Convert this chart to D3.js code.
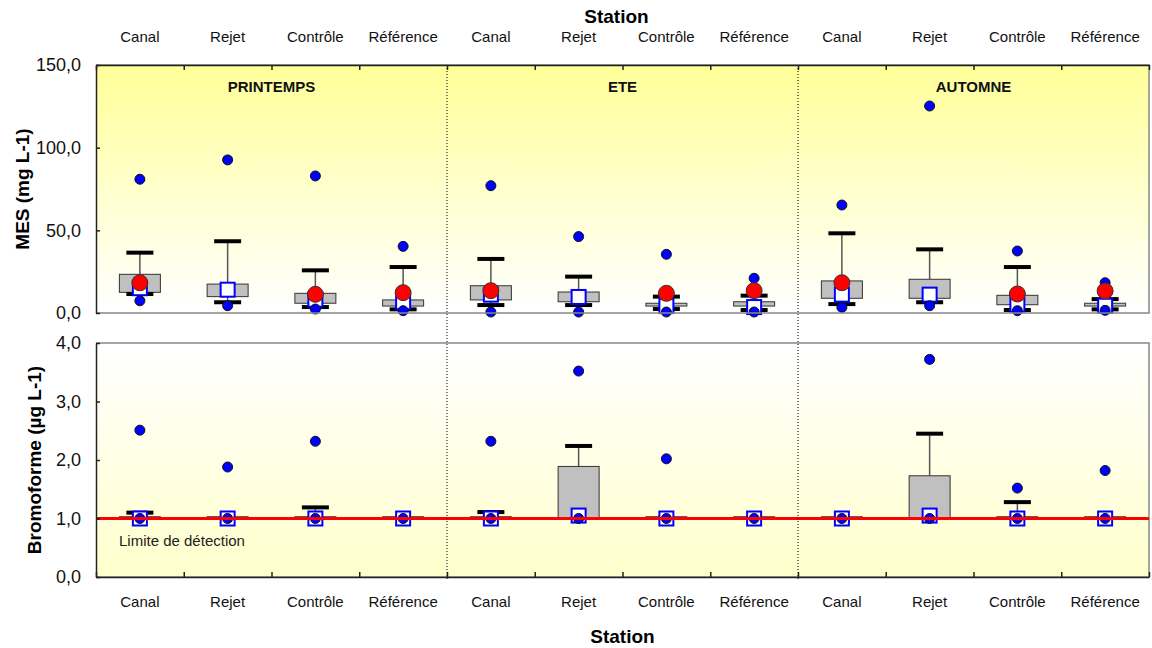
<!DOCTYPE html>
<html>
<head>
<meta charset="utf-8">
<script src="https://cdn.jsdelivr.net/npm/d3@7"></script>
<style>
  body { margin: 0; background: #fff; }
  text { font-family: Arial, "Liberation Sans", sans-serif; }
</style>
</head>
<body>
<div id="chart"></div>
<script>
// stations repeated in each season
const stations = ["Canal", "Rejet", "Contrôle", "Référence"];
const seasons = ["PRINTEMPS", "ETE", "AUTOMNE"];

// MES (mg L-1), 12 boxes: 3 seasons x 4 stations
const mesOutHigh = [80.9, 92.6, 82.9, 40.3, 77.0, 46.2, 35.5, 21.0, 65.3, 125.2, 37.5, 18.3];
const mesCapHigh = [36.5, 43.4, 25.8, 27.8, 32.7, 22.0, 9.9, 10.5, 48.2, 38.5, 27.8, 8.4];
const mesQ3      = [23.4, 17.5, 11.9, 7.9, 16.5, 12.7, 5.9, 6.8, 19.4, 20.4, 10.7, 5.9];
const mesMedian  = [15.0, 14.1, 8.0, 6.5, 11.1, 9.7, 4.2, 3.6, 11.1, 11.1, 5.0, 4.4];
const mesQ1      = [12.5, 9.9, 5.9, 4.2, 7.9, 6.8, 4.2, 4.2, 8.9, 8.9, 5.0, 4.2];
const mesCapLow  = [11.5, 6.5, 3.6, 2.2, 4.8, 4.8, 2.4, 1.8, 5.4, 6.5, 1.8, 2.2];
const mesOutLow  = [7.4, 4.4, 2.4, 1.4, 0.6, 0.6, 0.6, 0.6, 3.4, 4.4, 1.4, 1.6];
const mesMean    = [18.3, null, 11.3, 12.3, 13.5, null, 11.9, 13.5, 18.3, null, 11.5, 13.3];
const mesTicks   = [0, 50, 100, 150];

// Bromoforme (µg L-1)
const bromoOutHigh = [2.51, 1.88, 2.32, null, 2.32, 3.52, 2.02, null, null, 3.72, 1.52, 1.82];
const bromoCapHigh = [1.10, null, 1.19, null, 1.11, 2.24, null, null, null, 2.45, 1.28, null];
const bromoQ3      = [1.03, 1.03, 1.03, 1.03, 1.03, 1.89, 1.03, 1.03, 1.03, 1.73, 1.03, 1.03];
const bromoMedian  = [1.0, 1.0, 1.0, 1.0, 1.0, 1.05, 1.0, 1.0, 1.0, 1.05, 1.0, 1.0];
const bromoQ1      = [1.0, 1.0, 1.0, 1.0, 1.0, 1.0, 1.0, 1.0, 1.0, 1.0, 1.0, 1.0];
const bromoCapLow  = [null, null, null, null, null, null, null, null, null, null, null, null];
const bromoOutLow  = [1.0, 1.0, 1.0, 1.0, 1.0, 1.0, 1.0, 1.0, 1.0, 1.0, 1.0, 1.0];
const bromoMean    = [null, null, null, null, null, null, null, null, null, null, null, null];
const bromoTicks   = [0, 1, 2, 3, 4];
const detectionLimit = 1.0;

const width = 1152, height = 648;
const left = 96, right = 1149;
const top1 = 65, bot1 = 313;   // MES panel
const top2 = 343, bot2 = 577;  // Bromoforme panel

const svg = d3.select("#chart").append("svg")
  .attr("width", width).attr("height", height)
  .attr("viewBox", [0, 0, width, height]);

const defs = svg.append("defs");
const g1 = defs.append("linearGradient").attr("id", "gradTop")
  .attr("x1", 0).attr("y1", 0).attr("x2", 0).attr("y2", 1);
g1.append("stop").attr("offset", "0%").attr("stop-color", "#ffff99");
g1.append("stop").attr("offset", "100%").attr("stop-color", "#ffffff");
const g2 = defs.append("linearGradient").attr("id", "gradBot")
  .attr("x1", 0).attr("y1", 0).attr("x2", 0).attr("y2", 1);
g2.append("stop").attr("offset", "0%").attr("stop-color", "#ffffff");
g2.append("stop").attr("offset", "100%").attr("stop-color", "#ffffcc");

const labels = seasons.flatMap(() => stations);
const x = d3.scaleBand().domain(d3.range(labels.length)).range([left, right]);
const xIdx = d3.scaleLinear().domain([0, labels.length]).range([left, right]);
const cx = i => x(i) + x.bandwidth() / 2;

const yMes = d3.scaleLinear().domain([0, 150]).range([bot1, top1]);
const yBro = d3.scaleLinear().domain([0, 4]).range([bot2, top2]);
const fmt = d => d3.format(".1f")(d).replace(".", ",");

const boxW = 41, capW = 27;

function drawPanel(y, y0, y1, grad, s) {
  svg.append("rect").attr("x", left).attr("y", y0)
    .attr("width", right - left).attr("height", y1 - y0)
    .attr("fill", `url(#${grad})`);

  const idx = d3.range(labels.length);
  const g = svg.append("g");

  // whiskers
  idx.forEach(i => {
    if (s.capHigh[i] != null)
      g.append("line").attr("x1", cx(i)).attr("x2", cx(i))
        .attr("y1", y(s.q3[i])).attr("y2", y(s.capHigh[i]))
        .attr("stroke", "#555").attr("stroke-width", 1.5);
    if (s.capLow[i] != null)
      g.append("line").attr("x1", cx(i)).attr("x2", cx(i))
        .attr("y1", y(s.q1[i])).attr("y2", y(s.capLow[i]))
        .attr("stroke", "#555").attr("stroke-width", 1.5);
  });

  // boxes
  g.selectAll(".box").data(idx).join("rect")
    .attr("x", i => cx(i) - boxW / 2)
    .attr("y", i => y(s.q3[i]))
    .attr("width", boxW)
    .attr("height", i => Math.max(1, y(s.q1[i]) - y(s.q3[i])))
    .attr("fill", "#c0c0c0").attr("stroke", "#333").attr("stroke-width", 1);

  // caps
  [s.capHigh, s.capLow].forEach(arr => {
    g.selectAll(null).data(idx.filter(i => arr[i] != null)).join("line")
      .attr("x1", i => cx(i) - capW / 2).attr("x2", i => cx(i) + capW / 2)
      .attr("y1", i => y(arr[i])).attr("y2", i => y(arr[i]))
      .attr("stroke", "#000").attr("stroke-width", 4);
  });

  // medians
  g.selectAll(null).data(idx).join("rect")
    .attr("x", i => cx(i) - 7).attr("y", i => y(s.median[i]) - 7)
    .attr("width", 14).attr("height", 14)
    .attr("fill", "#fff").attr("stroke", "#0000ff").attr("stroke-width", 2);

  // outliers
  [s.outHigh, s.outLow].forEach(arr => {
    g.selectAll(null).data(idx.filter(i => arr[i] != null)).join("circle")
      .attr("cx", cx).attr("cy", i => y(arr[i])).attr("r", 5)
      .attr("fill", "#0000ff").attr("stroke", "#111").attr("stroke-width", 1);
  });

  // means
  g.selectAll(null).data(idx.filter(i => s.mean[i] != null)).join("circle")
    .attr("cx", cx).attr("cy", i => y(s.mean[i])).attr("r", 8)
    .attr("fill", "#ff0000").attr("stroke", "#333").attr("stroke-width", 1);

  // grey frame
  svg.append("path")
    .attr("d", `M${left},${y0}H${right}V${y1}H${left}`)
    .attr("fill", "none").attr("stroke", "#888").attr("stroke-width", 1.5);
}

drawPanel(yMes, top1, bot1, "gradTop", {
  outHigh: mesOutHigh, capHigh: mesCapHigh, q3: mesQ3, median: mesMedian,
  q1: mesQ1, capLow: mesCapLow, outLow: mesOutLow, mean: mesMean
});
drawPanel(yBro, top2, bot2, "gradBot", {
  outHigh: bromoOutHigh, capHigh: bromoCapHigh, q3: bromoQ3, median: bromoMedian,
  q1: bromoQ1, capLow: bromoCapLow, outLow: bromoOutLow, mean: bromoMean
});

// detection limit
svg.append("line")
  .attr("x1", left).attr("x2", right)
  .attr("y1", yBro(detectionLimit)).attr("y2", yBro(detectionLimit))
  .attr("stroke", "#ff0000").attr("stroke-width", 3);
svg.append("text").attr("x", 119).attr("y", yBro(detectionLimit) + 27)
  .attr("font-size", 15).attr("fill", "#222").text("Limite de détection");

// season dividers
[4, 8].forEach(k => {
  svg.append("line").attr("x1", xIdx(k)).attr("x2", xIdx(k))
    .attr("y1", top1).attr("y2", bot2 + 4)
    .attr("stroke", "#000").attr("stroke-width", 1).attr("stroke-dasharray", "1,2");
});

// axes
const boundaryTicks = d3.range(labels.length + 1);
svg.append("g").attr("transform", `translate(0,${top1})`)
  .call(d3.axisTop(xIdx).tickValues(boundaryTicks).tickFormat("").tickSize(-5).tickSizeOuter(0))
  .call(a => a.selectAll("path,line").attr("stroke", "#222").attr("stroke-width", 1.5));
svg.append("g").attr("transform", `translate(0,${bot2})`)
  .call(d3.axisBottom(xIdx).tickValues(boundaryTicks).tickFormat("").tickSize(-5).tickSizeOuter(0))
  .call(a => a.selectAll("path,line").attr("stroke", "#222").attr("stroke-width", 1.5));

[[yMes, mesTicks], [yBro, bromoTicks]].forEach(([y, t]) => {
  svg.append("g").attr("transform", `translate(${left},0)`)
    .call(d3.axisLeft(y).tickValues(t).tickFormat(fmt).tickSize(-4).tickSizeOuter(0).tickPadding(15))
    .call(a => a.selectAll("path,line").attr("stroke", "#222").attr("stroke-width", 1.5))
    .call(a => a.selectAll("text").attr("font-size", 18).attr("fill", "#111")
      .attr("font-family", "Arial, 'Liberation Sans', sans-serif"));
});

// station labels top and bottom
labels.forEach((lab, i) => {
  svg.append("text").attr("x", cx(i)).attr("y", 42).attr("text-anchor", "middle")
    .attr("font-size", 15).attr("fill", "#111").text(lab);
  svg.append("text").attr("x", cx(i)).attr("y", 607).attr("text-anchor", "middle")
    .attr("font-size", 15).attr("fill", "#111").text(lab);
});

// season titles
seasons.forEach((s, k) => {
  svg.append("text").attr("x", (xIdx(k * 4) + xIdx(k * 4 + 4)) / 2).attr("y", 92)
    .attr("text-anchor", "middle").attr("font-size", 15).attr("font-weight", "bold")
    .attr("fill", "#111").text(s);
});

// axis titles
svg.append("text").attr("x", (left + right) / 2 - 6).attr("y", 23)
  .attr("text-anchor", "middle").attr("font-size", 19).attr("font-weight", "bold").text("Station");
svg.append("text").attr("x", (left + right) / 2).attr("y", 643)
  .attr("text-anchor", "middle").attr("font-size", 19).attr("font-weight", "bold").text("Station");
svg.append("text").attr("transform", `translate(29,${(top1 + bot1) / 2}) rotate(-90)`)
  .attr("text-anchor", "middle").attr("font-size", 19).attr("font-weight", "bold").text("MES (mg L-1)");
svg.append("text").attr("transform", `translate(41,${(top2 + bot2) / 2}) rotate(-90)`)
  .attr("text-anchor", "middle").attr("font-size", 19).attr("font-weight", "bold").text("Bromoforme (µg L-1)");
</script>
</body>
</html>
